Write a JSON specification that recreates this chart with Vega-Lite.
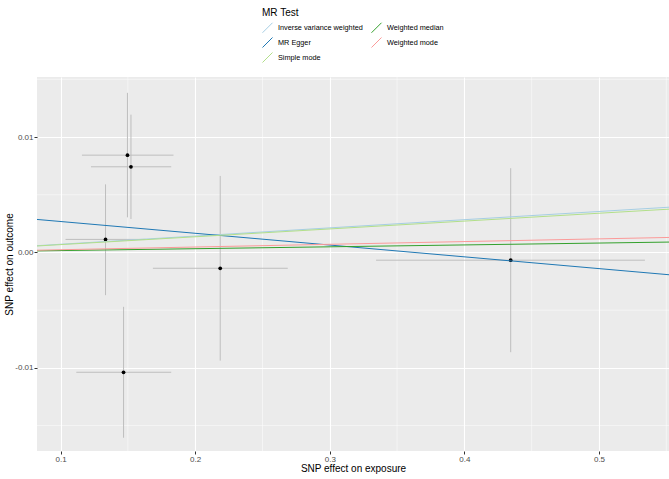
{
  "$schema": "https://vega.github.io/schema/vega-lite/v6.json",
  "width": 632,
  "height": 374,
  "autosize": {"type": "none"},
  "padding": {"left": 37, "top": 77, "right": 0, "bottom": 28},
  "background": "white",
  "config": {
    "view": {"fill": "#EBEBEB", "stroke": null},
    "font": "Liberation Sans",
    "axis": {
      "domain": false,
      "grid": true,
      "gridColor": "white",
      "gridWidth": 1.1,
      "tickColor": "#333333",
      "tickSize": 3,
      "labelColor": "#4D4D4D",
      "labelFontSize": 8,
      "titleFontSize": 10,
      "titleFontWeight": "normal",
      "titleColor": "black",
      "labelPadding": 1
    },
    "legend": {
      "orient": "none",
      "legendX": 225,
      "legendY": -69,
      "columns": 2,
      "titleFontSize": 10,
      "titleFontWeight": "normal",
      "titleColor": "black",
      "titlePadding": 4,
      "labelFontSize": 7.3,
      "labelColor": "black",
      "labelOffset": 5,
      "symbolType": "M-1,1L1,-1",
      "symbolSize": 100,
      "symbolStrokeWidth": 1,
      "rowPadding": 0,
      "columnPadding": 6
    }
  },
  "datasets": {
    "minorx": [{"v": 0.15}, {"v": 0.25}, {"v": 0.35}, {"v": 0.45}, {"v": 0.55}],
    "minory": [{"v": 0.015}, {"v": 0.005}, {"v": -0.005}, {"v": -0.015}],
    "snps": [
      {"bx": 0.1497, "by": 0.00843, "bxlo": 0.1159, "bxhi": 0.1839, "bylo": 0.00304, "byhi": 0.01383},
      {"bx": 0.1523, "by": 0.00742, "bxlo": 0.1226, "bxhi": 0.1822, "bylo": 0.0029, "byhi": 0.01194},
      {"bx": 0.1334, "by": 0.00113, "bxlo": 0.1037, "bxhi": 0.1631, "bylo": -0.0037, "byhi": 0.0059},
      {"bx": 0.2186, "by": -0.00137, "bxlo": 0.1686, "bxhi": 0.2688, "bylo": -0.00937, "byhi": 0.00663},
      {"bx": 0.1468, "by": -0.01038, "bxlo": 0.1117, "bxhi": 0.1822, "bylo": -0.01605, "byhi": -0.00471},
      {"bx": 0.4344, "by": -0.00067, "bxlo": 0.3344, "bxhi": 0.5341, "bylo": -0.00864, "byhi": 0.0073}
    ],
    "lines": [
      {"method": "Inverse variance weighted", "x1": 0.0825, "y1": 0.000586, "x2": 0.552, "y2": 0.00392},
      {"method": "MR Egger", "x1": 0.0825, "y1": 0.00286, "x2": 0.552, "y2": -0.00193},
      {"method": "Simple mode", "x1": 0.0825, "y1": 0.00056, "x2": 0.552, "y2": 0.00375},
      {"method": "Weighted median", "x1": 0.0825, "y1": 0.000134, "x2": 0.552, "y2": 0.0009},
      {"method": "Weighted mode", "x1": 0.0825, "y1": 0.000195, "x2": 0.552, "y2": 0.0013}
    ]
  },
  "layer": [
    {
      "data": {"name": "minorx"},
      "mark": {"type": "rule", "color": "white", "strokeWidth": 0.5},
      "encoding": {
        "x": {
          "field": "v",
          "type": "quantitative",
          "title": "SNP effect on exposure",
          "scale": {"domain": [0.0825, 0.552], "nice": false, "zero": false},
          "axis": {"values": [0.1, 0.2, 0.3, 0.4, 0.5], "format": ".1f", "titlePadding": 0}
        }
      }
    },
    {
      "data": {"name": "minory"},
      "mark": {"type": "rule", "color": "white", "strokeWidth": 0.5},
      "encoding": {
        "y": {
          "field": "v",
          "type": "quantitative",
          "title": "SNP effect on outcome",
          "scale": {"domain": [-0.0172, 0.0152], "nice": false, "zero": false},
          "axis": {
            "values": [-0.01, 0, 0.01],
            "labelExpr": "replace(format(datum.value, '.2f'), '\u2212', '-')",
            "titlePadding": 0
          }
        }
      }
    },
    {
      "data": {"name": "snps"},
      "mark": {"type": "rule", "color": "#BEBEBE", "strokeWidth": 1},
      "encoding": {
        "x": {"field": "bxlo", "type": "quantitative", "title": "SNP effect on exposure"},
        "x2": {"field": "bxhi"},
        "y": {"field": "by", "type": "quantitative", "title": "SNP effect on outcome"}
      }
    },
    {
      "data": {"name": "snps"},
      "mark": {"type": "rule", "color": "#BEBEBE", "strokeWidth": 1},
      "encoding": {
        "x": {"field": "bx", "type": "quantitative", "title": "SNP effect on exposure"},
        "y": {"field": "bylo", "type": "quantitative", "title": "SNP effect on outcome"},
        "y2": {"field": "byhi"}
      }
    },
    {
      "data": {"name": "snps"},
      "mark": {"type": "point", "filled": true, "color": "black", "size": 14, "opacity": 1},
      "encoding": {
        "x": {"field": "bx", "type": "quantitative", "title": "SNP effect on exposure"},
        "y": {"field": "by", "type": "quantitative", "title": "SNP effect on outcome"}
      }
    },
    {
      "data": {"name": "lines"},
      "mark": {"type": "rule", "strokeWidth": 1, "clip": true},
      "encoding": {
        "x": {"field": "x1", "type": "quantitative", "title": "SNP effect on exposure"},
        "y": {"field": "y1", "type": "quantitative", "title": "SNP effect on outcome"},
        "x2": {"field": "x2"},
        "y2": {"field": "y2"},
        "color": {
          "field": "method",
          "type": "nominal",
          "title": "MR Test",
          "scale": {
            "domain": ["Inverse variance weighted", "MR Egger", "Simple mode", "Weighted median", "Weighted mode"],
            "range": ["#A6CEE3", "#1F78B4", "#B2DF8A", "#33A02C", "#FB9A99"]
          }
        }
      }
    }
  ]
}
